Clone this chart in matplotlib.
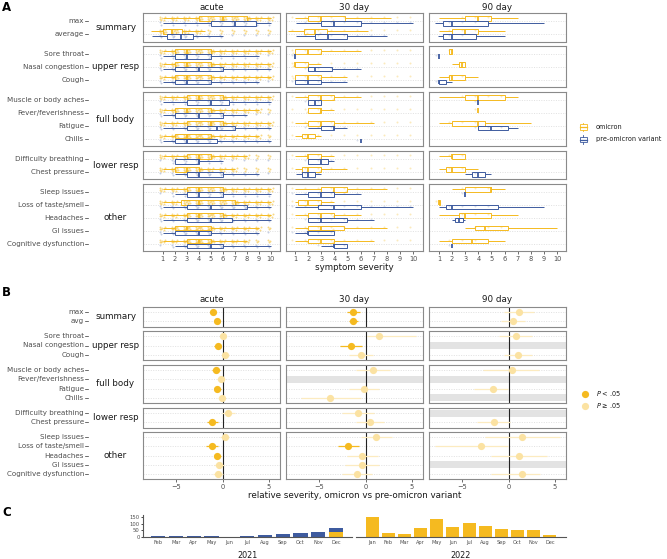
import matplotlib
matplotlib.use("Agg")
import matplotlib.pyplot as plt
from matplotlib.patches import Rectangle

# ---------------- data ----------------
timepoints = ["acute", "30 day", "90 day"]
group_names = ["summary", "upper resp", "full body", "lower resp", "other"]
labels_A = ["max", "average", "Sore throat", "Nasal congestion", "Cough",
            "Muscle or body aches", "Fever/feverishness", "Fatigue", "Chills",
            "Difficulty breathing", "Chest pressure", "Sleep issues",
            "Loss of taste/smell", "Headaches", "GI issues", "Cognitive dysfunction"]
labels_B = ["max", "avg"] + labels_A[2:]
group_members = [[0, 1], [2, 3, 4], [5, 6, 7, 8], [9, 10], [11, 12, 13, 14, 15]]

# box stats: (whisker low, q1, median, q3, whisker high); None = no data
omicron_acute = [(1, 4, 6, 8, 10), (0, 1, 1.8, 2.6, 4.5), (1, 2, 3, 5, 10), (1, 2, 3, 5, 10),
                 (1, 2, 3, 5, 10), (1, 3, 4, 6, 10), (1, 2, 3, 5, 9), (1, 3, 5, 6, 10),
                 (1, 2, 3, 5, 9), (1, 3, 4, 5, 8), (1, 2, 3, 4, 7), (1, 3, 4, 6, 10),
                 (1, 2.5, 4, 7, 10), (1, 3, 4, 6, 10), (1, 2, 3, 5, 9), (1, 3, 4, 5, 8)]
pre_acute = [(1, 5, 7, 8.75, 10), (0.1, 1.4, 2.5, 3.5, 6), (1, 2, 3, 5, 9), (1, 2, 4, 6, 10),
             (1, 2, 3, 5, 9), (1, 3, 5, 6.5, 10), (1, 2, 4, 6, 8), (1, 3, 5.5, 7, 10),
             (1, 2, 3, 5.5, 10), (2, 2, 4, 4, 6), (2, 3, 4, 6, 9), (2, 3, 4, 6, 10),
             (1, 3, 5, 8, 10), (1, 3, 5, 6.75, 10), (1, 2, 4, 5, 9), (2, 3, 5, 6, 10)]
omicron_30 = [(1, 2, 3, 4.8, 8.3), (0.5, 1.7, 2.5, 3.4, 6.6), (1, 1, 2, 3, 6), (1, 1, 1, 2, 3),
              (1, 1, 2, 3, 5), (1, 2, 3, 4, 6), (2, 2, 3, 3, 4), (1, 2, 3, 4, 7),
              (1, 1.5, 2, 2.5, 3), (1, 2, 2, 3, 4), (1, 1.5, 2, 3, 5), (1, 3, 4, 5, 8),
              (1, 1.25, 2, 3, 4), (1, 2, 3, 4, 6), (1, 2, 3, 4.75, 8), (1, 2, 3, 4, 7)]
pre_30 = [(1.1, 3, 4, 6, 10), (1.1, 2.5, 3.5, 5, 8), (1, 1, 1, 1, 1), (2, 2, 2.5, 3.8, 6),
          (1, 1, 2, 3, 5), (2, 2, 2.5, 3, 3), None, (2, 3, 4, 4, 5),
          (6, 6, 6, 6, 6), (2, 2, 3, 3.5, 4), (1.1, 1.5, 2, 2.5, 3), (1, 2, 3, 4, 6),
          (1, 2.75, 4, 6, 10), (2, 2, 3, 5, 7), (1, 2, 2, 4, 4), (3, 4, 4, 5, 5)]
omicron_90 = [(1, 3, 4, 5, 7), (1, 2, 3, 4, 6), (1.75, 1.75, 2, 2, 2), (2, 2.5, 2.75, 3, 3),
              (1, 1.8, 2, 3, 4), (1, 3, 4, 6, 7), (4, 4, 4, 4, 4), (1, 2, 4, 4.5, 8),
              None, (1, 2, 2, 3, 3), (1, 1.5, 2, 3, 4), (2, 3, 5, 5, 6),
              (1, 1, 1, 1.1, 1.1), (1, 2.5, 3, 5, 7), (3, 3.75, 4.5, 6.25, 10), (1, 2, 3.5, 4.75, 6)]
pre_90 = [(0.7, 1.3, 2, 4.75, 9), (0.9, 1.3, 2, 3.8, 6), (1, 1, 1, 1, 1), None,
          (1, 1, 1, 1.5, 2), (4, 4, 4, 4, 4), None, (4, 4, 5, 6.25, 7),
          None, None, (3, 3.5, 4, 4.5, 5), (3, 3, 3, 3, 3),
          (1, 1.5, 2, 5.5, 9), (2, 2.25, 2.5, 2.8, 3), None, (2, 2, 2, 2, 2)]
omicron_box = [omicron_acute, omicron_30, omicron_90]
pre_box = [pre_acute, pre_30, pre_90]

# relative severity (omicron vs pre-omicron): estimate, CI low, CI high, significant
est_acute = [-1.05, -0.58, 0.04, -0.54, 0.29, -0.69, -0.18, -0.58, -0.11, 0.58, -1.12,
             0.22, -1.12, -0.58, -0.43, -0.5]
lo_acute = [-1.4, -0.85, -0.3, -0.9, -0.1, -1.1, -0.6, -0.95, -0.5, -0.1, -1.7,
            -0.3, -1.8, -0.95, -0.9, -1.0]
hi_acute = [-0.7, -0.3, 0.4, -0.2, 0.7, -0.3, 0.3, -0.2, 0.3, 1.3, -0.5,
            0.7, -0.45, -0.2, 0.1, 0.0]
sig_acute = [1, 1, 0, 1, 0, 1, 0, 1, 0, 0, 1, 0, 1, 1, 0, 0]
est_30 = [-1.36, -1.32, 1.5, -1.6, -0.5, 0.79, None, -0.18, -3.9, -0.82, 0.46,
          1.14, -1.86, -0.36, -0.36, -0.89]
lo_30 = [-2.0, -1.8, 0.2, -2.8, -1.8, -1.0, None, -1.8, -7.0, -2.5, -1.0,
         -0.5, -3.0, -2.0, -2.2, -2.5]
hi_30 = [-0.6, -0.8, 5.4, -0.4, 0.8, 2.6, None, 1.4, -0.5, 0.9, 2.0,
         2.8, -0.7, 1.3, 1.5, 0.7]
sig_30 = [1, 1, 0, 1, 0, 0, 0, 0, 0, 0, 0, 0, 1, 0, 0, 0]
est_90 = [1.07, 0.5, 0.75, None, 1.0, 0.32, None, -1.68, None, None, -1.57,
          1.46, -3.0, 1.1, None, 1.43]
lo_90 = [-0.5, -0.8, -1.0, None, -0.5, -2.8, None, -3.7, None, None, -3.4,
         -2.6, -8.0, -1.9, None, -1.9]
hi_90 = [2.7, 1.8, 2.5, None, 2.5, 3.25, None, -0.1, None, None, 0.2,
         5.6, -0.1, 4.1, None, 3.4]
sig_90 = [0] * 16
rel_est = [est_acute, est_30, est_90]
rel_lo = [lo_acute, lo_30, lo_90]
rel_hi = [hi_acute, hi_30, hi_90]
rel_sig = [sig_acute, sig_30, sig_90]

# case counts by month
months_2021 = ["Feb", "Mar", "Apr", "May", "Jun", "Jul", "Aug", "Sep", "Oct", "Nov", "Dec"]
omicron_2021 = [0, 0, 0, 0, 0, 0, 0, 0, 0, 0, 35]
pre_2021 = [5, 7, 10, 7, 2, 7, 18, 20, 28, 38, 31]
months_2022 = ["Jan", "Feb", "Mar", "Apr", "May", "Jun", "Jul", "Aug", "Sep", "Oct", "Nov", "Dec"]
omicron_2022 = [152, 30, 20, 66, 137, 74, 104, 84, 58, 53, 53, 15]

# ---------------- style ----------------
YEL = "#F5BA20"
BLU = "#3E5B9F"
LIGHT = "#FBE2A2"
LIGHT_LINE = "#FCEBC0"
BORDER = "#8A8A8A"
TICKC = "#4D4D4D"
TXT = "#1A1A1A"
GRID = "#D6D6D6"

W, H = 667, 559
fig = plt.figure(figsize=(W / 100, H / 100), dpi=100)
plt.rcParams["font.family"] = ["DejaVu Sans"]

ov = fig.add_axes([0, 0, 1, 1])
ov.set_xlim(0, W)
ov.set_ylim(H, 0)
ov.axis("off")


def add_ax(x0, y0, x1, y1):
    return fig.add_axes([x0 / W, 1 - y1 / H, (x1 - x0) / W, (y1 - y0) / H])


def style_ax(ax):
    for s in ax.spines.values():
        s.set_color(BORDER)
        s.set_linewidth(0.8)
    ax.tick_params(axis="both", length=2, width=0.5, color="#333333",
                   labelcolor=TICKC, labelsize=5.1, pad=1.5)


def row_labels(ax, y0, y1, n, labels):
    # labels sit left of the group strip (strip placed inside the axis)
    for i, lab in enumerate(labels):
        yy = y0 + (y1 - y0) * (i + 0.6) / (n - 1 + 1.2)
        ov.text(84, yy, lab, ha="right", va="center", fontsize=5.1, color=TICKC)
        ov.plot([85, 87.5], [yy, yy], color="#333333", lw=0.5)


col_x = [(143, 280), (286, 423), (429, 566)]
A_rows = [(13, 41.5), (46, 87.4), (92, 146.4), (151, 179.5), (184, 251.3)]
B_rows = [(307, 326.5), (331, 360), (365, 403), (408, 427.5), (432, 479)]
A_xlim = [(-0.63, 10.78), (0.31, 10.76), (0.24, 10.68)]

JIT = [(-0.24, -0.08), (-0.12, 0.10), (-0.02, -0.03), (0.10, 0.11), (0.20, -0.10),
       (-0.18, 0.04), (0.14, 0.02), (0.25, 0.08), (0.03, -0.12), (-0.07, 0.13)]
DENS = {0: [(9, 6, 3), (3, 2, 1)], 1: [(2, 1, 1), (1, 1, 0)], 2: [(1, 0, 0), (1, 0, 0)]}


def cloud(ax, y, st, color, dens, alpha, size):
    lo, q1, med, q3, hi = st
    xs, ys = [], []
    for v in range(1, 11):
        if q1 <= v <= q3:
            k = dens[0]
        elif lo <= v <= hi:
            k = dens[1]
        else:
            k = dens[2]
        for dx, dy in JIT[:k]:
            xs.append(v + dx)
            ys.append(y + dy)
    ax.scatter(xs, ys, s=size, color=color, alpha=alpha, lw=0, zorder=1)


def draw_box(ax, y, st, color):
    lo, q1, med, q3, hi = st
    h = 0.36
    ax.plot([lo, q1], [y, y], color=color, lw=0.7, zorder=3, solid_capstyle="butt")
    ax.plot([q3, hi], [y, y], color=color, lw=0.7, zorder=3, solid_capstyle="butt")
    if q3 > q1:
        ax.add_patch(Rectangle((q1, y - h / 2), q3 - q1, h, fill=False, ec=color,
                               lw=0.7, zorder=3))
    ax.plot([med, med], [y - h / 2, y + h / 2], color=color, lw=1.3, zorder=4,
            solid_capstyle="butt")


# ---------------- panel A ----------------
for c in range(3):
    for g, members in enumerate(group_members):
        ax = add_ax(col_x[c][0], A_rows[g][0], col_x[c][1], A_rows[g][1])
        style_ax(ax)
        n = len(members)
        for i, k in enumerate(members):
            ax.axhline(i, color=GRID, lw=0.5, ls=(0, (1.5, 2)), zorder=0)
            for data, off, colr, di in [(omicron_box[c], -0.19, YEL, 0),
                                        (pre_box[c], 0.19, BLU, 1)]:
                st = data[k]
                if st is None:
                    continue
                if c == 0:
                    a = 0.55 if di == 0 else 0.3
                else:
                    a = 0.3 if di == 0 else 0.2
                cloud(ax, i + off, st, colr, DENS[c][di], a, 2.0)
                draw_box(ax, i + off, st, colr)
        ax.set_ylim(n - 1 + 0.6, -0.6)
        ax.set_xlim(*A_xlim[c])
        ax.set_yticks([])
        if c == 0:
            row_labels(ax, A_rows[g][0], A_rows[g][1], n, [labels_A[k] for k in members])
        if g == 4:
            ax.set_xticks(range(1, 11))
            ax.tick_params(axis="x", labelsize=4.8)
        else:
            ax.set_xticks([])
    ov.text((col_x[c][0] + col_x[c][1]) / 2, 7.5, timepoints[c], ha="center", va="center",
            fontsize=6.3, color=TXT)
    ov.text((col_x[c][0] + col_x[c][1]) / 2, 299, timepoints[c], ha="center", va="center",
            fontsize=6.3, color=TXT)

for g, name in enumerate(group_names):
    ov.text(115.5, (A_rows[g][0] + A_rows[g][1]) / 2, name, ha="center", va="center",
            fontsize=6.3, color=TXT)
    ov.text(115.5, (B_rows[g][0] + B_rows[g][1]) / 2, name, ha="center", va="center",
            fontsize=6.3, color=TXT)

ov.text(354.5, 268, "symptom severity", ha="center", va="center", fontsize=6.3, color=TXT)
ov.text(354.5, 496, "relative severity, omicron vs pre-omicron variant", ha="center",
        va="center", fontsize=6.3, color=TXT)

# legend A
for yy, colr, lab in [(127, YEL, "omicron"), (139.5, BLU, "pre-omicron variant")]:
    ov.add_patch(Rectangle((579.5, yy - 2.6), 7, 5.2, fill=False, ec=colr, lw=0.6))
    ov.plot([579.5, 586.5], [yy, yy], color=colr, lw=0.9)
    ov.plot([583, 583], [yy - 4.2, yy - 2.6], color=colr, lw=0.6)
    ov.plot([583, 583], [yy + 2.6, yy + 4.2], color=colr, lw=0.6)
    ov.text(596, yy, lab, ha="left", va="center", fontsize=4.7, color=TXT)

# ---------------- panel B ----------------
for c in range(3):
    for g, members in enumerate(group_members):
        ax = add_ax(col_x[c][0], B_rows[g][0], col_x[c][1], B_rows[g][1])
        style_ax(ax)
        n = len(members)
        for i, k in enumerate(members):
            ax.axhline(i, color=GRID, lw=0.5, ls=(0, (1.5, 2)), zorder=0)
            e = rel_est[c][k]
            if e is None:
                ax.axhspan(i - 0.4, i + 0.4, color="#E3E3E3", lw=0, zorder=0.5)
                continue
            s = rel_sig[c][k]
            ax.plot([rel_lo[c][k], rel_hi[c][k]], [i, i],
                    color=YEL if s else LIGHT_LINE, lw=0.9, zorder=2,
                    solid_capstyle="butt")
            ax.plot([e], [i], "o", ms=5.2, color=YEL if s else LIGHT, mec="none", zorder=3)
        ax.axvline(0, color="#222222", lw=0.8, zorder=1)
        ax.set_ylim(n - 1 + 0.6, -0.6)
        ax.set_xlim(-8.6, 6.2)
        ax.set_yticks([])
        if c == 0:
            row_labels(ax, B_rows[g][0], B_rows[g][1], n, [labels_B[k] for k in members])
        if g == 4:
            ax.set_xticks([-5, 0, 5])
            ax.tick_params(axis="x", labelsize=4.8)
        else:
            ax.set_xticks([])

# legend B
ov.plot([585], [393.5], "o", ms=5.2, color=YEL, mec="none")
ov.plot([585], [405.5], "o", ms=5.2, color=LIGHT, mec="none")
ov.text(596, 393.5, r"$P$ < .05", ha="left", va="center", fontsize=4.7, color=TXT)
ov.text(596, 405.5, r"$P$ ≥ .05", ha="left", va="center", fontsize=4.7, color=TXT)

# ---------------- panel C ----------------
ax21 = add_ax(143, 515, 352, 537)
ax22 = add_ax(356, 515, 566, 537)
x21 = range(len(months_2021))
ax21.bar(x21, omicron_2021, width=0.8, color=YEL, lw=0)
ax21.bar(x21, pre_2021, bottom=omicron_2021, width=0.8, color=BLU, lw=0)
x22 = range(len(months_2022))
ax22.bar(x22, omicron_2022, width=0.8, color=YEL, lw=0)
for ax, months, xl in [(ax21, months_2021, (-0.85, 10.9)), (ax22, months_2022, (-1.0, 12.0))]:
    ax.set_xlim(*xl)
    ax.set_ylim(0, 165)
    ax.set_xticks(range(len(months)))
    ax.set_xticklabels(months)
    ax.tick_params(axis="x", length=0, labelsize=3.6, labelcolor=TICKC, pad=2)
    ax.spines["top"].set_visible(False)
    ax.spines["right"].set_visible(False)
    ax.spines["bottom"].set_color("#555555")
    ax.spines["bottom"].set_linewidth(0.8)
    ax.patch.set_alpha(0)
ax21.spines["left"].set_color("#555555")
ax21.spines["left"].set_linewidth(0.8)
ax21.set_yticks([0, 50, 100, 150])
ax21.tick_params(axis="y", length=1.5, width=0.5, labelsize=3.8, labelcolor=TICKC, pad=1)
ax22.spines["left"].set_visible(False)
ax22.set_yticks([])
ov.text(247, 555, "2021", ha="center", va="center", fontsize=5.8, color=TXT)
ov.text(461, 555, "2022", ha="center", va="center", fontsize=5.8, color=TXT)

# panel letters
ov.text(2, 7.5, "A", ha="left", va="center", fontsize=8.5, fontweight="bold")
ov.text(2, 292.5, "B", ha="left", va="center", fontsize=8.5, fontweight="bold")
ov.text(2, 513, "C", ha="left", va="center", fontsize=8.5, fontweight="bold")

fig.savefig("out.png", dpi=100)
